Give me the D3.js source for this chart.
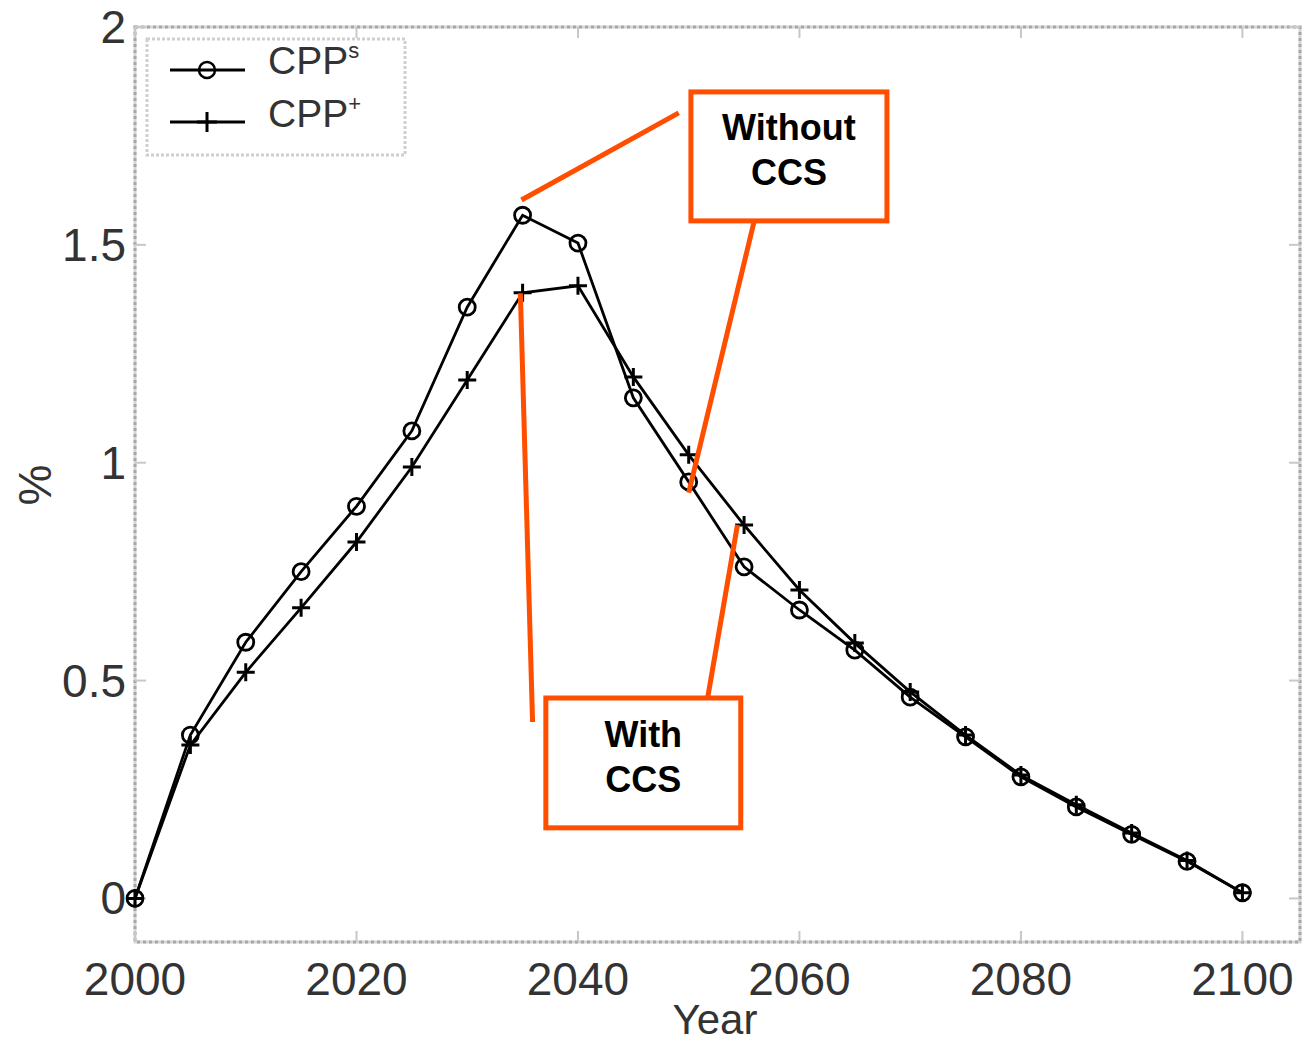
<!DOCTYPE html>
<html>
<head>
<meta charset="utf-8">
<script src="https://cdn.jsdelivr.net/npm/d3@7"></script>
<style>
  html, body { margin: 0; padding: 0; background: #fff; }
  svg { display: block; font-family: "Liberation Sans", Arial, Helvetica, sans-serif; }
</style>
</head>
<body>
<div id="chart"></div>
<script>
// years and the two series
const years = [2000, 2005, 2010, 2015, 2020, 2025, 2030, 2035, 2040, 2045, 2050,
  2055, 2060, 2065, 2070, 2075, 2080, 2085, 2090, 2095, 2100];
const cppS = [0, 0.375, 0.588, 0.75, 0.900, 1.073, 1.357, 1.568, 1.504, 1.149, 0.956,
  0.761, 0.662, 0.570, 0.462, 0.371, 0.279, 0.210, 0.147, 0.085, 0.013];
const cppPlus = [0, 0.352, 0.519, 0.667, 0.818, 0.990, 1.190, 1.390, 1.406, 1.197, 1.018,
  0.857, 0.708, 0.586, 0.474, 0.375, 0.283, 0.215, 0.150, 0.087, 0.013];

const xTicks = [2000, 2020, 2040, 2060, 2080, 2100];
const yTicks = [0, 0.5, 1, 1.5, 2];
const yTickLabels = ['0', '0.5', '1', '1.5', '2'];

// callouts: box corners and pointer lines, in data units
const callouts = [
  { lines: ['Without', 'CCS'], box: [2050.2, 1.851, 2067.9, 1.555],
    pointers: [[[2049.1, 1.803], [2034.9, 1.603]], [[2055.9, 1.553], [2050.0, 0.931]]] },
  { lines: ['With', 'CCS'], box: [2037.1, 0.460, 2054.7, 0.162],
    pointers: [[[2035.9, 0.405], [2034.8, 1.389]], [[2051.6, 0.444], [2054.4, 0.857]]] }
];

const width = 1302;
const height = 1046;
const plotLeft = 135, plotRight = 1300, plotTop = 27, plotBottom = 942;

const svg = d3.select('#chart').append('svg')
  .attr('width', width)
  .attr('height', height);

const x = d3.scaleLinear().domain([2000, 2105.2]).range([plotLeft, plotRight]);
const y = d3.scaleLinear().domain([-0.1, 2]).range([plotBottom, plotTop]);

// frame (dotted grey look)
const frame = svg.append('g');
frame.append('rect')
  .attr('x', plotLeft).attr('y', plotTop)
  .attr('width', plotRight - plotLeft).attr('height', plotBottom - plotTop)
  .attr('fill', 'none').attr('stroke', '#d6d6d6').attr('stroke-width', 3);
frame.append('rect')
  .attr('x', plotLeft).attr('y', plotTop)
  .attr('width', plotRight - plotLeft).attr('height', plotBottom - plotTop)
  .attr('fill', 'none').attr('stroke', '#a8a8a8').attr('stroke-width', 3)
  .attr('stroke-dasharray', '3,3');

// inward ticks on all four sides
const tickColor = '#c8c8c8';
xTicks.forEach(t => {
  frame.append('line').attr('x1', x(t)).attr('x2', x(t)).attr('y1', plotBottom).attr('y2', plotBottom - 11)
    .attr('stroke', tickColor).attr('stroke-width', 2);
  frame.append('line').attr('x1', x(t)).attr('x2', x(t)).attr('y1', plotTop).attr('y2', plotTop + 11)
    .attr('stroke', tickColor).attr('stroke-width', 2);
});
yTicks.forEach(t => {
  frame.append('line').attr('x1', plotLeft).attr('x2', plotLeft + 11).attr('y1', y(t)).attr('y2', y(t))
    .attr('stroke', tickColor).attr('stroke-width', 2);
  frame.append('line').attr('x1', plotRight).attr('x2', plotRight - 11).attr('y1', y(t)).attr('y2', y(t))
    .attr('stroke', tickColor).attr('stroke-width', 2);
});

// tick labels
svg.append('g').selectAll('text')
  .data(xTicks)
  .join('text')
  .attr('x', d => x(d))
  .attr('y', 995)
  .attr('text-anchor', 'middle')
  .attr('font-size', 46)
  .attr('fill', '#333')
  .text(d => d);

svg.append('g').selectAll('text')
  .data(yTicks)
  .join('text')
  .attr('x', 126)
  .attr('y', d => y(d) + 16)
  .attr('text-anchor', 'end')
  .attr('font-size', 46)
  .attr('fill', '#333')
  .text((d, i) => yTickLabels[i]);

// axis titles
svg.append('text')
  .attr('x', 715).attr('y', 1034)
  .attr('text-anchor', 'middle')
  .attr('font-size', 42)
  .attr('fill', '#333')
  .text('Year');

svg.append('text')
  .attr('transform', 'translate(51,485) rotate(-90)')
  .attr('text-anchor', 'middle')
  .attr('font-size', 46)
  .attr('fill', '#333')
  .text('%');

// series
const line = d3.line()
  .x((d, i) => x(years[i]))
  .y(d => y(d));

svg.append('path')
  .datum(cppPlus)
  .attr('d', line)
  .attr('fill', 'none').attr('stroke', '#000').attr('stroke-width', 2.8);

svg.append('path')
  .datum(cppS)
  .attr('d', line)
  .attr('fill', 'none').attr('stroke', '#000').attr('stroke-width', 2.8);

const plusPath = s => `M${-s},0H${s}M0,${-s}V${s}`;

svg.append('g').selectAll('path')
  .data(cppPlus)
  .join('path')
  .attr('transform', (d, i) => `translate(${x(years[i])},${y(d)})`)
  .attr('d', plusPath(9))
  .attr('stroke', '#000').attr('stroke-width', 3).attr('fill', 'none');

svg.append('g').selectAll('circle')
  .data(cppS)
  .join('circle')
  .attr('cx', (d, i) => x(years[i]))
  .attr('cy', d => y(d))
  .attr('r', 8)
  .attr('fill', 'none').attr('stroke', '#000').attr('stroke-width', 2.8);

// legend
const legend = svg.append('g');
legend.append('rect')
  .attr('x', 147).attr('y', 39).attr('width', 258).attr('height', 116)
  .attr('fill', '#fff').attr('stroke', '#cfcfcf').attr('stroke-width', 3)
  .attr('stroke-dasharray', '3,2');

legend.append('line').attr('x1', 170).attr('x2', 245).attr('y1', 70).attr('y2', 70)
  .attr('stroke', '#000').attr('stroke-width', 3);
legend.append('circle').attr('cx', 207).attr('cy', 70).attr('r', 8)
  .attr('fill', 'none').attr('stroke', '#000').attr('stroke-width', 2.5);
legend.append('line').attr('x1', 170).attr('x2', 245).attr('y1', 122).attr('y2', 122)
  .attr('stroke', '#000').attr('stroke-width', 3);
legend.append('path').attr('transform', 'translate(207,122)').attr('d', plusPath(10))
  .attr('stroke', '#000').attr('stroke-width', 3).attr('fill', 'none');

const legendText = [['CPP', 's', 74], ['CPP', '+', 127]];
legendText.forEach(([main, sup, yy]) => {
  const t = legend.append('text')
    .attr('x', 268).attr('y', yy)
    .attr('font-size', 39)
    .attr('fill', '#333');
  t.append('tspan').text(main);
  t.append('tspan').attr('dy', -16).attr('font-size', 22).text(sup);
});

// callouts
const orange = '#ff4e00';
callouts.forEach(c => {
  const g = svg.append('g');
  c.pointers.forEach(p => {
    g.append('line')
      .attr('x1', x(p[0][0])).attr('y1', y(p[0][1]))
      .attr('x2', x(p[1][0])).attr('y2', y(p[1][1]))
      .attr('stroke', orange).attr('stroke-width', 5);
  });
  const [x0, y0, x1, y1] = c.box;
  g.append('rect')
    .attr('x', x(x0)).attr('y', y(y0))
    .attr('width', x(x1) - x(x0)).attr('height', y(y1) - y(y0))
    .attr('fill', '#fff').attr('stroke', orange).attr('stroke-width', 5);
  const cx = (x(x0) + x(x1)) / 2;
  const cy = (y(y0) + y(y1)) / 2;
  c.lines.forEach((txt, i) => {
    g.append('text')
      .attr('x', cx)
      .attr('y', cy - 16 + i * 45)
      .attr('text-anchor', 'middle')
      .attr('font-size', 36)
      .attr('font-weight', 'bold')
      .attr('fill', '#000')
      .text(txt);
  });
});
</script>
</body>
</html>
